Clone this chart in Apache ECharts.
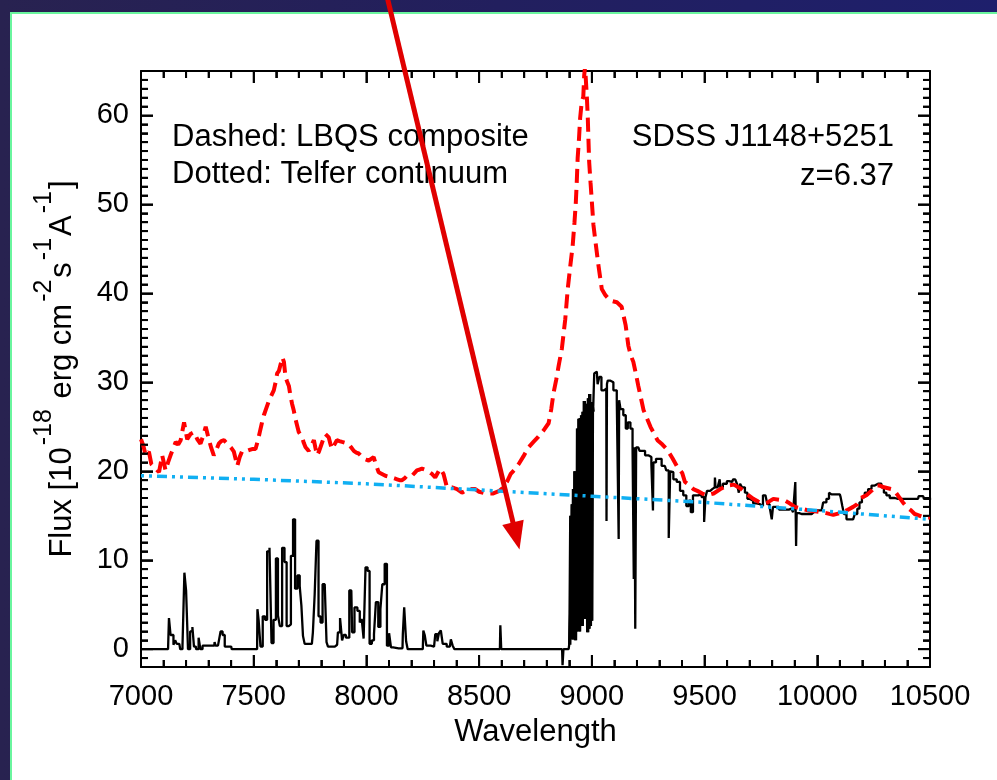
<!DOCTYPE html>
<html><head><meta charset="utf-8">
<script src="https://cdn.jsdelivr.net/npm/echarts@6/dist/echarts.min.js"></script>
<style>
html,body{margin:0;padding:0;width:997px;height:780px;overflow:hidden;background:linear-gradient(90deg,#282250 0%,#221f5e 50%,#1e1f6c 100%);}
#panel{position:absolute;left:10px;top:12px;right:0;bottom:0;background:#fff;border-left:2px solid #6af59e;border-top:2px solid #6af59e;}
#chart{position:absolute;left:0;top:0;width:997px;height:780px;}
</style></head><body><div id="panel"></div><div id="chart"></div>
<script>
// ---- axis ticks / labels ----
const X_TICKS = [7000, 7500, 8000, 8500, 9000, 9500, 10000, 10500];
const X_MINOR = [7100,7200,7300,7400,7600,7700,7800,7900,8100,8200,8300,8400,8600,8700,8800,8900,9100,9200,9300,9400,9600,9700,9800,9900,10100,10200,10300,10400];
const Y_TICKS = [0, 10, 20, 30, 40, 50, 60];
const Y_MINOR = [-1,1,2,3,4,5,6,7,8,9,11,12,13,14,15,16,17,18,19,21,22,23,24,25,26,27,28,29,31,32,33,34,35,36,37,38,39,41,42,43,44,45,46,47,48,49,51,52,53,54,55,56,57,58,59,61,62,63,64];
const Y_RANGE = [-2, 65];

// ---- observed spectrum (black) ----
const OBS_WAVE = [7000,7120,7128,7134,7140,7148,7155,7162,7170,7178,7190,7195,7205,7212,7224,7232,7238,7250,7261,7266,7280,7325,7328,7333,7350,7356,7368,7375,7400,7405,
7515,7518,7526,7534,7546,7555,7564,7576,7582,7594,7603,7612,7620,7632,7641,7651,7660,7670,7679,7688,7700,7708,7715,7722,7730,7758,7767,7774,7783,7792,7801,7810,7820,7826,7833,7860,7870,7877,7889,7895,7903,7915,7933,7940,7954,7966,7975,7983,7992,8000,8010,8018,8030,8037,8047,8058,8066,8075,8087,8095,8106,8112,8125,8160,8163,8172,8180,8186,8250,8255,8262,8270,8300,8311,8318,8325,8335,8342,8370,8379,8386,8395,8592,8596,8600,8868,8872,8876,8897,
8902,8905,8908,8911,8914,8917,8920,8923,8926,8929,8932,8935,8938,8941,8944,8947,8950,8953,8956,8959,8962,8965,8968,8971,8974,8977,8980,8983,8986,8989,8992,8995,8998,9001,9004,9007,9014,9022,9029,9037,9048,9059,9064,9066,9068,9073,9088,9103,9118,9120,9122,9132,9147,9154,9165,9177,9184,9188,9190,9195,9198,9206,9217,9229,9243,9258,9270,9272,9274,9295,9324,9336,9346,9349,9354,9369,9384,9398,9413,9425,9435,9443,9454,9465,9479,9494,9502,9506,9516,9534,9545,9547,9550,9566,9568,9572,9590,9608,9622,9632,9634,9638,9649,9655,9660,9672,9686,9694,9708,9723,9738,9753,9765,9775,9782,9795,9801,9806,9819,9841,9863,9885,9900,9905,9907,9910,9930,9975,9985,9996,10019,10033,10048,10056,10063,10100,10107,10115,10122,10137,10159,10174,10181,10193,10203,10218,10233,10248,10262,10277,10292,10299,10314,10329,10358,10447,10452,10470,10476,10505];
const OBS_FLUX = [0,0,3.5,1.6,1.6,0.5,1.0,0.6,0.6,0,0.3,8.6,6.6,0,2.0,2.5,0.3,0,1.3,0,0.4,0.4,0.8,0.4,0.4,2.0,1.6,0.3,0.3,0,
0,4.5,3.2,0.3,3.7,3.3,11.0,11.4,0.7,3.3,10.2,3.8,2.6,11.4,9.8,2.6,2.8,10.5,14.6,6.8,8.3,7.1,4.9,1.5,0.6,0.6,1.9,6.2,12.2,3.7,3.0,7.3,7.3,0.8,0.3,0.3,0.5,1.9,3.5,1.0,1.6,1.3,6.6,1.9,4.7,4.3,3.0,3.4,1.2,9.2,8.8,0.6,1.0,1.7,5.3,2.5,4.5,7.3,9.6,0.4,1.8,0.2,0.1,0.1,1.7,4.7,0.9,0,0,2.1,1.6,0.4,0.3,1.7,0.9,1.8,2.1,0.6,0.3,1.1,0.4,0,0,2.7,0,0,-1.8,0,0,
0.5,4,15.0,6,16.3,1.1,18,1.5,20,1.0,12,2,24.8,2.5,25.9,2.0,26.0,3.0,26.3,2.6,26.7,3.5,27.9,3.4,27.6,4.0,27.4,1.9,28.2,2.3,28.7,2.6,27.8,3.2,27.2,26.7,31.0,31.2,29.8,30.6,29.1,29.3,29.3,14.4,29.8,30.2,30.0,29.1,28.1,12.4,28.0,27.0,26.3,24.8,25.5,24.8,22.7,7.9,22.7,2.3,22.7,22.7,22.3,22.3,21.8,21.6,20.8,15.6,21.0,21.4,20.6,20.1,12.5,20.0,19.9,19.1,18.8,17.8,17.3,16.1,16.7,15.4,17.3,17.3,17.4,17.1,14.3,17.1,17.8,18.0,18.2,19.3,18.2,18.2,19.1,18.2,18.6,18.9,18.8,19.1,19.3,19.1,18.6,17.6,18.6,18.2,17.6,16.9,16.7,16.4,16.3,16.1,17.3,17.4,16.3,16.0,14.6,16.0,16.0,15.7,15.7,15.8,15.4,18.8,11.6,15.3,15.2,15.2,15.4,15.6,15.6,16.5,16.9,17.6,17.4,17.4,17.1,16.1,15.2,14.6,14.6,15.2,15.8,16.5,17.1,17.6,18.0,18.4,18.6,18.6,18.2,17.6,17.3,17.0,16.9,16.9,17.2,17.2,16.9,16.9];
// the saturated absorption block in the observed spectrum
const DENSE_RANGE = [8900, 9010];

// ---- LBQS composite (red dashed) ----
const LBQS_WAVE = [7000,7010,7021,7035,7046,7057,7068,7080,7094,7109,7120,7131,7143,7154,7165,7176,7191,7205,7220,7235,7250,7264,7276,7287,7301,7312,7323,7334,7345,7356,7368,7379,7390,7401,7412,7427,7438,7449,7460,7471,7482,7493,7508,7518,7527,7536,7545,7556,7567,7578,7589,7597,7604,7612,7619,7627,7634,7641,7648,7656,7663,7670,7678,7685,7693,7700,7708,7715,7722,7730,7737,7744,7756,7767,7774,7781,7789,7796,7807,7818,7826,7833,7840,7847,7858,7869,7880,7892,7906,7921,7932,7944,7955,7966,7977,7988,7999,8010,8021,8032,8043,8054,8069,8084,8098,8113,8125,8136,8147,8158,8169,8180,8191,8202,8213,8224,8235,8246,8257,8268,8280,8291,8305,8316,8327,8335,8342,8350,8357,8368,8379,8390,8402,8413,8424,8438,8453,8468,8483,8500,8530,8560,8590,8608,8625,8640,8658,8675,8697,8719,8741,8763,8786,8808,8820,8830,8842,8853,8867,8882,8893,8904,8915,8923,8929,8933,8937,8943,8948,8955,8962,8966,8970,8975,8978,8982,8985,8988,8994,9000,9007,9018,9029,9044,9060,9081,9111,9132,9150,9162,9173,9184,9195,9206,9218,9229,9260,9291,9313,9335,9357,9379,9401,9413,9424,9450,9468,9490,9512,9540,9570,9600,9630,9663,9690,9716,9738,9760,9780,9805,9830,9857,9871,9900,9930,9960,9990,10020,10040,10071,10100,10130,10159,10177,10193,10218,10240,10262,10277,10296,10329,10343,10360,10380,10400,10416,10432,10476,10500];
const LBQS_FLUX = [23.6,22.9,21.8,22.2,20.8,20.5,20.2,19.9,21.8,20.1,21.0,21.8,22.6,23.3,23.0,23.5,25.5,23.6,24.2,24.4,23.6,23.1,24.0,25.0,23.6,22.6,21.8,22.4,23.1,23.4,23.5,23.2,22.9,22.6,22.2,20.6,21.6,22.3,22.3,22.3,22.4,22.5,22.5,23.4,24.4,25.4,26.3,27.1,27.9,28.5,29.1,30.0,31.0,31.3,31.5,32.8,32.3,30.6,30.1,29.6,28.5,27.6,26.8,25.9,25.1,24.4,24.1,23.8,23.2,22.7,22.5,22.3,22.9,23.5,22.6,21.8,22.2,22.7,23.5,24.2,24.0,23.8,23.1,22.5,23.0,23.5,23.4,23.3,23.2,23.1,22.7,22.3,22.1,22.0,21.7,21.4,21.3,21.2,21.4,21.6,20.7,19.9,19.7,19.5,19.4,19.3,19.2,19.1,19.0,19.0,19.2,19.5,19.5,19.5,19.8,20.1,20.2,20.3,20.2,20.1,19.9,19.7,19.3,19.8,20.3,20.0,19.7,18.9,18.2,18.2,18.2,18.1,18.0,17.8,17.6,17.8,18.0,18.0,18.0,17.7,17.5,17.5,17.8,18.2,18.9,19.7,20.2,20.8,21.7,22.7,23.3,23.9,24.6,25.4,27.0,28.8,30.3,31.9,33.8,37.1,40.5,43.0,45.4,48.0,50.3,52.5,55.2,57.4,59.7,61.5,62.1,64.5,65.5,65.5,62.0,59.7,57.2,54.8,52.5,50.3,47.7,45.4,43.2,40.5,39.8,39.2,39.0,38.5,36.4,34.1,33.0,32.3,31.0,29.6,28.2,26.9,25.0,23.5,23.0,22.4,21.5,20.5,19.8,18.8,18.6,18.0,17.8,17.5,17.3,17.5,18.0,18.4,18.5,18.0,17.4,16.9,16.6,16.4,16.5,16.9,16.8,16.7,16.5,16.0,15.8,15.6,15.5,15.4,15.3,15.1,15.3,15.6,16.0,16.3,17.0,17.3,17.8,18.4,18.4,18.2,18.0,17.8,17.2,16.5,15.9,15.6,15.2,14.8,14.8];

// ---- Telfer continuum (blue dotted) ----
const TELFER_WAVE = [7000, 7500, 8000, 8500, 9000, 9500, 10000, 10500];
const TELFER_FLUX = [19.5, 19.1, 18.6, 17.9, 17.2, 16.5, 15.6, 14.6];

// ---- annotation arrow (data coordinates) ----
const ARROW_FROM = [8094, 73.1];
const ARROW_TO = [8679, 11.2];

const zip = (a, b) => a.map((v, i) => [v, b[i]]);
const OBS_ALL = zip(OBS_WAVE, OBS_FLUX);
const OBS_DENSE = OBS_ALL.filter(p => p[0] >= DENSE_RANGE[0] && p[0] <= DENSE_RANGE[1]);

const FONT = "'Liberation Sans', Arial, Helvetica, sans-serif";
const FS = 29;
const FS_ANN = 31;

const TICK = { show: true, inside: false, length: -12, lineStyle: { color: '#000', width: 1.8 } };
function minor(n) { return { show: true, splitNumber: n, length: -7, lineStyle: { color: '#000', width: 1.8 } }; }

function xAx(pos, showLabel) {
  return {
    type: 'value', position: pos, min: X_TICKS[0], max: X_TICKS[X_TICKS.length - 1],
    interval: X_TICKS[1] - X_TICKS[0],
    name: showLabel ? 'Wavelength' : '', nameLocation: 'middle', nameGap: 50,
    nameTextStyle: { fontFamily: FONT, fontSize: FS_ANN, color: '#000' },
    axisLine: { show: true, onZero: false, lineStyle: { color: '#000', width: 2 } },
    axisTick: TICK, minorTick: minor(5),
    axisLabel: { show: showLabel, margin: 15, fontFamily: FONT, fontSize: FS, color: '#000',
      formatter: v => String(v) },
    splitLine: { show: false }, minorSplitLine: { show: false }
  };
}
function yAx(pos, showLabel) {
  return {
    type: 'value', position: pos, min: Y_RANGE[0], max: Y_RANGE[1],
    name: showLabel ? '{b|Flux [10}{s|-18}{b| erg cm}{s|-2}{b|s}{s|-1}{b|A}{s|-1}{b|]}' : '',
    nameLocation: 'middle', nameRotate: 90, nameGap: 49,
    nameTextStyle: {
      fontFamily: FONT, fontSize: FS_ANN, color: '#000',
      rich: {
        b: { fontFamily: FONT, fontSize: FS_ANN, color: '#000', lineHeight: 60 },
        s: { fontFamily: FONT, fontSize: 25, color: '#000', lineHeight: 26, verticalAlign: 'top', padding: [0, 2, 0, 2] }
      }
    },
    axisLine: { show: true, onZero: false, lineStyle: { color: '#000', width: 2 } },
    axisTick: TICK, minorTick: minor(10),
    axisLabel: {
      show: showLabel, margin: 12, fontFamily: FONT, fontSize: FS, color: '#000',
      showMinLabel: false, showMaxLabel: false,
      formatter: v => (Y_TICKS.indexOf(v) >= 0 ? String(v) : '')
    },
    splitLine: { show: false }, minorSplitLine: { show: false }
  };
}

const chart = echarts.init(document.getElementById('chart'), null, { renderer: 'canvas' });
const textEl = (t, x, y, align) => ({
  type: 'text', x: x, y: y, z: 50,
  style: { text: t, fontFamily: FONT, fontSize: FS_ANN, fill: '#000', align: align, verticalAlign: 'middle' }
});

chart.setOption({
  animation: false,
  backgroundColor: 'transparent',
  grid: { left: 141, top: 71, width: 789, height: 596, containLabel: false },
  xAxis: [xAx('bottom', true), xAx('top', false)],
  yAxis: [yAx('left', true), yAx('right', false)],
  series: [
    { type: 'line', name: 'observed', xAxisIndex: 0, yAxisIndex: 0, data: OBS_ALL,
      step: 'middle', symbol: 'none', z: 2, lineStyle: { color: '#000', width: 2.3 } },
    { type: 'line', name: 'observed-dense', xAxisIndex: 0, yAxisIndex: 0, data: OBS_DENSE,
      step: 'middle', symbol: 'none', z: 2, lineStyle: { color: '#000', width: 3.4 } },
    { type: 'line', name: 'LBQS', xAxisIndex: 0, yAxisIndex: 0, data: zip(LBQS_WAVE, LBQS_FLUX),
      symbol: 'none', z: 3, lineStyle: { color: '#ff0000', width: 4, type: [14, 7], cap: 'butt' } },
    { type: 'line', name: 'Telfer', xAxisIndex: 0, yAxisIndex: 0, data: zip(TELFER_WAVE, TELFER_FLUX),
      symbol: 'none', z: 4, lineStyle: { color: '#10aff2', width: 3.5, type: [3, 5, 3, 5, 10, 5], cap: 'butt' } }
  ]
});

// inward tick marks on all four sides (filled bars), placed through the axes' scales
const XR = [X_TICKS[0], X_TICKS[X_TICKS.length - 1]];
const cLo = chart.convertToPixel({ gridIndex: 0 }, [XR[0], Y_RANGE[0]]);
const cHi = chart.convertToPixel({ gridIndex: 0 }, [XR[1], Y_RANGE[1]]);
const TW = 2;
const tickEls = [];
function tickRect(x, y, w, h) {
  return { type: 'rect', z: 55, shape: { x: x, y: y, width: w, height: h }, style: { fill: '#000000' } };
}
function addX(v, len) {
  const x = chart.convertToPixel({ gridIndex: 0 }, [v, Y_RANGE[0]])[0];
  tickEls.push(tickRect(x - TW / 2, cLo[1] - len, TW, len));
  tickEls.push(tickRect(x - TW / 2, cHi[1], TW, len));
}
function addY(v, len) {
  const y = chart.convertToPixel({ gridIndex: 0 }, [XR[0], v])[1];
  tickEls.push(tickRect(cLo[0], y - TW / 2, len, TW));
  tickEls.push(tickRect(cHi[0] - len, y - TW / 2, len, TW));
}
X_TICKS.forEach(v => addX(v, 12)); X_MINOR.forEach(v => addX(v, 7));
Y_TICKS.forEach(v => addY(v, 12)); Y_MINOR.forEach(v => addY(v, 7));

const p0 = chart.convertToPixel({ gridIndex: 0 }, ARROW_FROM);
const p1 = chart.convertToPixel({ gridIndex: 0 }, ARROW_TO);
const dx = p1[0] - p0[0], dy = p1[1] - p0[1], L = Math.hypot(dx, dy);
const ux = dx / L, uy = dy / L, nx = -uy, ny = ux;
const headL = 28, headW = 11;
const base = [p1[0] - ux * headL, p1[1] - uy * headL];
chart.setOption({
  graphic: [
    textEl('Dashed: LBQS composite', 172, 137, 'left'),
    textEl('Dotted: Telfer continuum', 172, 174, 'left'),
    textEl('SDSS J1148+5251', 894, 137, 'right'),
    textEl('z=6.37', 894, 176, 'right'),
    { type: 'line', z: 60, shape: { x1: p0[0], y1: p0[1], x2: base[0] + ux * 2, y2: base[1] + uy * 2 },
      style: { stroke: '#e00000', lineWidth: 5 } },
    { type: 'polygon', z: 60, shape: { points: [
        [p1[0], p1[1]],
        [base[0] + nx * headW, base[1] + ny * headW],
        [base[0] - nx * headW, base[1] - ny * headW]] },
      style: { fill: '#e00000' } }
  ].concat(tickEls)
});
</script></body></html>
